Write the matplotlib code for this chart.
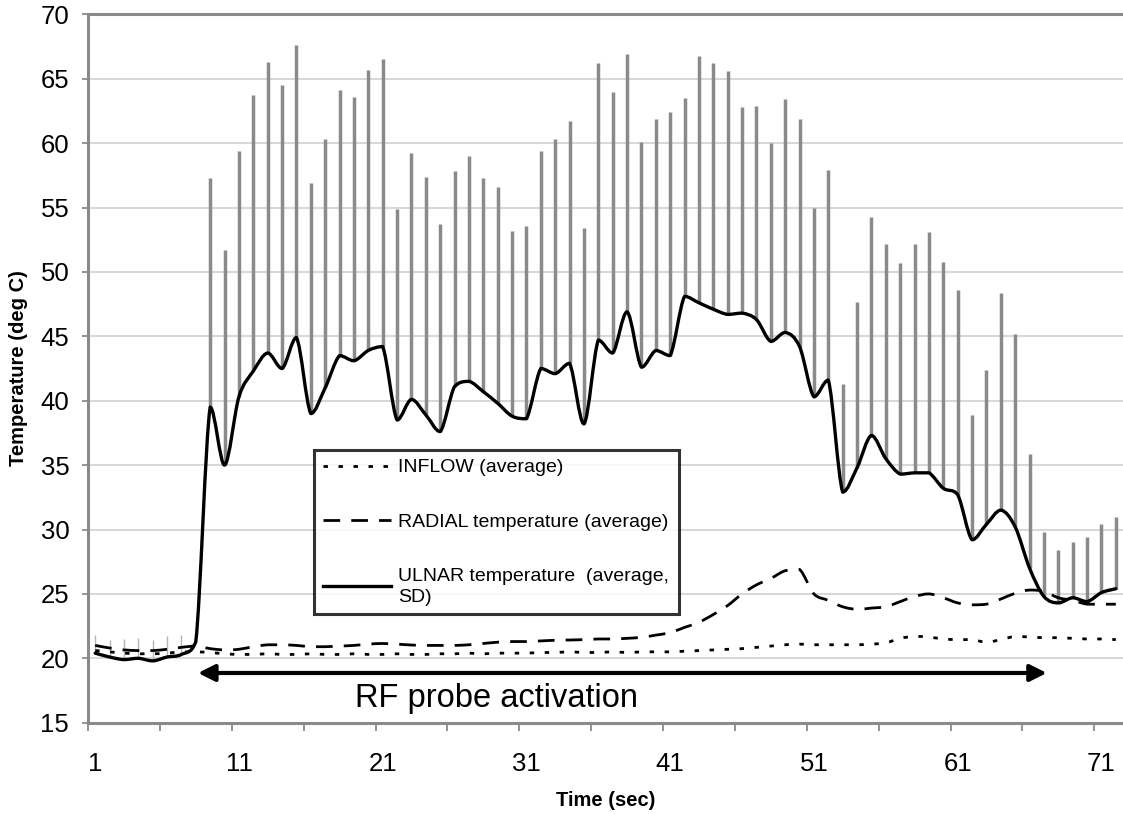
import numpy as np
import matplotlib

matplotlib.use('Agg')
import matplotlib.pyplot as plt
from matplotlib.lines import Line2D
from matplotlib.path import Path
from matplotlib.patches import PathPatch

plt.rcParams['font.family'] = ['Liberation Sans', 'DejaVu Sans']

# --- data (one value per second, 1..72) ---
time_sec = np.arange(1, 73)

ulnar_mean = [20.4, 20.1, 19.9, 20.0, 19.8, 20.1, 20.3, 21.3, 39.5, 35.0,
              40.3, 42.3, 43.7, 42.5, 44.9, 39.0, 41.0, 43.5, 43.1, 43.9,
              44.2, 38.5, 40.1, 38.9, 37.6, 41.1, 41.5, 40.7, 39.8, 38.8,
              38.6, 42.5, 42.1, 42.9, 38.2, 44.7, 43.7, 46.9, 42.6, 43.9,
              43.5, 48.1, 47.6, 47.1, 46.7, 46.8, 46.3, 44.6, 45.3, 44.2,
              40.3, 41.6, 32.9, 34.8, 37.3, 35.5, 34.3, 34.4, 34.4, 33.2,
              32.7, 29.2, 30.4, 31.5, 30.2, 27.0, 24.8, 24.3, 24.7, 24.4,
              25.1, 25.4]

# top of the SD bar (mean + SD)
ulnar_top = [21.8, 21.4, 21.5, 21.6, 21.4, 21.7, 21.8, 22.0, 57.3, 51.7,
             59.4, 63.7, 66.3, 64.5, 67.6, 56.9, 60.3, 64.1, 63.6, 65.7,
             66.5, 54.9, 59.2, 57.4, 53.7, 57.8, 59.0, 57.3, 56.6, 53.2,
             53.6, 59.4, 60.3, 61.7, 53.4, 66.2, 64.0, 66.9, 60.1, 61.9,
             62.4, 63.5, 66.8, 66.2, 65.6, 62.8, 62.9, 60.0, 63.4, 61.9,
             55.0, 57.9, 41.3, 47.7, 54.3, 52.2, 50.7, 52.2, 53.1, 50.8,
             48.6, 38.9, 42.4, 48.4, 45.2, 35.9, 29.8, 28.4, 29.0, 29.4,
             30.4, 31.0]

radial_mean = [21.0, 20.8, 20.65, 20.6, 20.6, 20.7, 20.85, 20.95, 20.75, 20.65,
               20.7, 20.9, 21.05, 21.05, 21.0, 20.9, 20.9, 20.95, 21.0, 21.1,
               21.15, 21.1, 21.03, 21.0, 21.0, 21.0, 21.05, 21.15, 21.25, 21.3,
               21.3, 21.35, 21.4, 21.42, 21.45, 21.5, 21.5, 21.55, 21.63, 21.8,
               22.0, 22.4, 22.8, 23.4, 24.1, 25.0, 25.7, 26.2, 26.8, 26.9,
               25.0, 24.5, 24.0, 23.8, 23.9, 24.0, 24.4, 24.8, 25.0, 24.7,
               24.3, 24.15, 24.2, 24.6, 25.05, 25.3, 25.2, 24.7, 24.5, 24.2,
               24.2, 24.2]

inflow_mean = [20.6, 20.5, 20.4, 20.35, 20.35, 20.4, 20.5, 20.5, 20.45, 20.35,
               20.3, 20.3, 20.35, 20.3, 20.3, 20.35, 20.3, 20.3, 20.35, 20.3,
               20.3, 20.35, 20.3, 20.3, 20.35, 20.35, 20.4, 20.35, 20.4, 20.4,
               20.4, 20.45, 20.45, 20.5, 20.45, 20.45, 20.5, 20.45, 20.5, 20.5,
               20.5, 20.55, 20.6, 20.65, 20.7, 20.75, 20.85, 20.95, 21.05, 21.1,
               21.05, 21.05, 21.05, 21.05, 21.1, 21.2, 21.55, 21.7, 21.65, 21.5,
               21.45, 21.45, 21.25, 21.45, 21.7, 21.65, 21.6, 21.6, 21.55, 21.5,
               21.5, 21.45]

labels = ['INFLOW (average)', 'RADIAL temperature (average)',
          'ULNAR temperature  (average,\nSD)']

activation_start = 8.15
activation_end = 67.2


def smooth_path(x, y):
    # spreadsheet-style smoothed line: cubic bezier through every point,
    # control heights kept inside each segment so nothing overshoots badly
    pts = np.column_stack([x, y]).astype(float)
    verts = [pts[0]]
    codes = [Path.MOVETO]
    n = len(pts)
    for i in range(n - 1):
        p0 = pts[max(i - 1, 0)]
        p1 = pts[i]
        p2 = pts[i + 1]
        p3 = pts[min(i + 2, n - 1)]
        c1 = p1 + (p2 - p0) / 6.0
        c2 = p2 - (p3 - p1) / 6.0
        lo, hi = min(p1[1], p2[1]), max(p1[1], p2[1])
        c1[1] = np.clip(c1[1], lo, hi)
        c2[1] = np.clip(c2[1], lo, hi)
        verts += [c1, c2, p2]
        codes += [Path.CURVE4] * 3
    return Path(verts, codes)


# --- figure ---
fig = plt.figure(figsize=(11.23, 8.14), dpi=100)
ax = fig.add_axes([88 / 1123, 1 - 722.7 / 814, 1035 / 1123, 708.4 / 814])

gray = '#8a8a8a'
ax.set_xlim(0.5, 72.5)
ax.set_ylim(15, 70)

ax.yaxis.grid(True, color='#d4d4d4', linewidth=1.3)
ax.set_axisbelow(True)

# SD bars (upward only)
early = time_sec < 9
ax.vlines(time_sec[early], np.array(ulnar_mean)[early], np.array(ulnar_top)[early],
          color='#b5b5b5', linewidth=1.0, zorder=2)
ax.vlines(time_sec[~early], np.array(ulnar_mean)[~early], np.array(ulnar_top)[~early],
          color=gray, linewidth=2.5, zorder=2)

lw = 2.0
inflow_style = dict(color='black', linewidth=lw, dashes=(1.6, 3.8))
radial_style = dict(color='black', linewidth=lw, dashes=(6.0, 4.0))
ulnar_style = dict(color='black', linewidth=2.4)

ax.add_patch(PathPatch(smooth_path(time_sec, inflow_mean), fill=False,
                       edgecolor='black', linewidth=lw, linestyle=(0, (1.6, 3.8)),
                       zorder=3))
ax.add_patch(PathPatch(smooth_path(time_sec, radial_mean), fill=False,
                       edgecolor='black', linewidth=lw, linestyle=(0, (6.0, 4.0)),
                       zorder=3))
ax.add_patch(PathPatch(smooth_path(time_sec, ulnar_mean), fill=False,
                       edgecolor='black', linewidth=2.4, joinstyle='round',
                       capstyle='round', zorder=4))

# RF activation arrow
ax.annotate('', xy=(activation_end, 18.86), xytext=(activation_start, 18.86),
            arrowprops=dict(arrowstyle='<|-|>', color='black', lw=3,
                            mutation_scale=25, shrinkA=0, shrinkB=0), zorder=5)
ax.text(28.95, 16.9, 'RF probe activation', fontsize=23.5, ha='center', va='center')

# spines
for side in ['left', 'top', 'bottom']:
    ax.spines[side].set_color(gray)
    ax.spines[side].set_linewidth(2.2)
ax.spines['right'].set_visible(False)

# ticks
ax.set_yticks(np.arange(15, 71, 5))
ax.tick_params(axis='y', direction='out', length=4.5, width=1.3, color=gray,
               labelsize=18.5, pad=9)
ax.set_xticks(np.arange(0.5, 73, 5))
ax.set_xticklabels([])
ax.set_xticks(np.arange(1, 73, 10), minor=True)
ax.set_xticklabels([str(v) for v in range(1, 73, 10)], minor=True)
ax.tick_params(axis='x', which='major', direction='out', length=6, width=1.3, color=gray)
ax.tick_params(axis='x', which='minor', length=0, labelsize=18.5, pad=21)

ax.set_xlabel('Time (sec)', fontsize=14.5, fontweight='bold')
ax.xaxis.set_label_coords(0.5, -0.096)
ax.set_ylabel('Temperature (deg C)', fontsize=14.5, fontweight='bold')
ax.yaxis.set_label_coords(-0.058, 0.5)

# legend
handles = [Line2D([], [], **inflow_style),
           Line2D([], [], **radial_style),
           Line2D([], [], **ulnar_style)]
leg = ax.legend(handles, labels, loc='upper left',
                bbox_to_anchor=(0.2184, 0.385, 0.3526, 0.0), mode='expand',
                fontsize=14, frameon=True, fancybox=False, borderaxespad=0,
                handlelength=3.5, handletextpad=0.35, labelspacing=1.9,
                borderpad=0.45)
for t in leg.get_texts():
    t.set_linespacing(1.3)
leg.get_frame().set_edgecolor('black')
leg.get_frame().set_linewidth(2.2)
leg.get_frame().set_facecolor('white')
leg.set_zorder(6)

fig.savefig('out.png', dpi=100)
